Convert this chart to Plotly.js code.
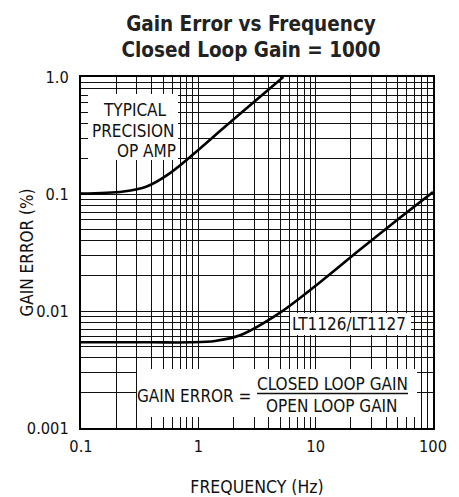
<!DOCTYPE html>
<html><head><meta charset="utf-8">
<script src="https://cdn.plot.ly/plotly-3.0.1.min.js"></script>
<style>html,body{margin:0;padding:0;background:#fff}</style>
</head><body><div id="chart" style="width:459px;height:497px"></div>
<script>
// Typical precision op amp: frequency (Hz) vs gain error (%)
const opAmpFreq = [0.1, 0.23, 0.363, 0.574, 1.034, 1.53, 2.27, 5.3];
const opAmpErr  = [0.1007, 0.105, 0.116, 0.151, 0.245, 0.345, 0.485, 1.0];
// LT1126/LT1127
const ltFreq = [0.1, 0.4, 0.85, 1.39, 2.27, 4.98, 10.9, 23.9, 45.9, 100];
const ltErr  = [0.0054, 0.0054, 0.0054, 0.00555, 0.0062, 0.00967, 0.0176, 0.0335, 0.0566, 0.104];

const xMajor = [0.1, 1, 10, 100];
const xLabels = ['0.1', '1', '10', '100'];
const yMajor = [0.001, 0.01, 0.1, 1];
const yLabels = ['0.001', '0.01', '0.1', '1.0'];

function fullTicks(major, labels) {
  const vals = [], text = [];
  for (let i = 0; i < major.length; i++) {
    vals.push(major[i]); text.push(labels[i]);
    if (i < major.length - 1) {
      for (let m = 2; m <= 9; m++) { vals.push(major[i] * m); text.push(''); }
    }
  }
  return {vals, text};
}
const xt = fullTicks(xMajor, xLabels);
const yt = fullTicks(yMajor, yLabels);

const COND = "'DejaVu Sans Condensed', 'Liberation Sans Narrow', sans-serif";
const annFont = {family: COND, size: 17, color: '#111'};

const traces = [
  {x: opAmpFreq, y: opAmpErr, type: 'scatter', mode: 'lines', name: 'TYPICAL PRECISION OP AMP',
   line: {color: '#000', width: 2.6, shape: 'spline', smoothing: 1}, hoverinfo: 'skip'},
  {x: ltFreq, y: ltErr, type: 'scatter', mode: 'lines', name: 'LT1126/LT1127',
   line: {color: '#000', width: 2.6, shape: 'spline', smoothing: 0.9}, hoverinfo: 'skip'}
];

const px = v => (v - 81) / 352;
const py = v => (428 - v) / 351;

const layout = {
  width: 459, height: 497,
  margin: {l: 81, r: 26, t: 77, b: 69},
  paper_bgcolor: '#fff', plot_bgcolor: '#fff',
  showlegend: false,
  title: {text: 'Gain Error vs Frequency<br>Closed Loop Gain = 1000',
          font: {family: COND, size: 20.5, weight: 700, color: '#222'},
          x: 251/459, xanchor: 'center', xref: 'container',
          y: 0.938, yanchor: 'top', yref: 'container'},
  xaxis: {type: 'log', range: [-1, 2], tickmode: 'array', tickvals: xt.vals, ticktext: xt.text,
          showgrid: true, gridcolor: '#111', gridwidth: 1, zeroline: false,
          showline: true, linecolor: '#000', linewidth: 2, mirror: true, ticks: '',
          ticklabelstandoff: 2,
          tickfont: {family: COND, size: 16.3, color: '#111'},
          title: {text: 'FREQUENCY (Hz)', font: {family: COND, size: 17.5, color: '#111'}, standoff: 29}},
  yaxis: {type: 'log', range: [-3, 0], tickmode: 'array', tickvals: yt.vals, ticktext: yt.text,
          showgrid: true, gridcolor: '#111', gridwidth: 1, zeroline: false,
          showline: true, linecolor: '#000', linewidth: 2, mirror: true, ticks: '',
          ticklabelstandoff: 7,
          tickfont: {family: COND, size: 16.3, color: '#111'}},
  shapes: [
    {type: 'rect', xref: 'paper', yref: 'paper', x0: px(88), x1: px(178), y0: py(160), y1: py(94),
     fillcolor: '#fff', line: {width: 0}, layer: 'above'},
    {type: 'rect', xref: 'paper', yref: 'paper', x0: px(290), x1: px(411), y0: py(335), y1: py(313),
     fillcolor: '#fff', line: {width: 0}, layer: 'above'},
    {type: 'rect', xref: 'paper', yref: 'paper', x0: px(137), x1: px(417), y0: py(417), y1: py(369),
     fillcolor: '#fff', line: {width: 0}, layer: 'above'},
    {type: 'line', xref: 'paper', yref: 'paper', x0: px(257), x1: px(408), y0: py(393.5), y1: py(393.5),
     line: {color: '#111', width: 1.5}, layer: 'above'}
  ],
  annotations: [
    {xref: 'paper', yref: 'paper', x: px(26), y: 0.5, xanchor: 'center', yanchor: 'middle', textangle: -90,
     text: 'GAIN ERROR (%)', showarrow: false, font: {family: COND, size: 17, color: '#111'}},
    {xref: 'paper', yref: 'paper', x: px(169), y: py(110), xanchor: 'right', yanchor: 'middle', text: 'TYPICAL', showarrow: false, font: annFont},
    {xref: 'paper', yref: 'paper', x: px(176), y: py(130.7), xanchor: 'right', yanchor: 'middle', text: 'PRECISION', showarrow: false, font: annFont},
    {xref: 'paper', yref: 'paper', x: px(178), y: py(150.7), xanchor: 'right', yanchor: 'middle', text: 'OP AMP', showarrow: false, font: annFont},
    {xref: 'paper', yref: 'paper', x: px(349), y: py(324), xanchor: 'center', yanchor: 'middle', text: 'LT1126/LT1127', showarrow: false, font: annFont},
    {xref: 'paper', yref: 'paper', x: px(194), y: py(396), xanchor: 'center', yanchor: 'middle', text: 'GAIN ERROR =', showarrow: false, font: annFont},
    {xref: 'paper', yref: 'paper', x: px(332), y: py(384), xanchor: 'center', yanchor: 'middle', text: 'CLOSED LOOP GAIN', showarrow: false, font: annFont},
    {xref: 'paper', yref: 'paper', x: px(332), y: py(406), xanchor: 'center', yanchor: 'middle', text: 'OPEN LOOP GAIN', showarrow: false, font: annFont}
  ]
};

Plotly.newPlot('chart', traces, layout, {staticPlot: true, displayModeBar: false});
</script>
</body></html>
